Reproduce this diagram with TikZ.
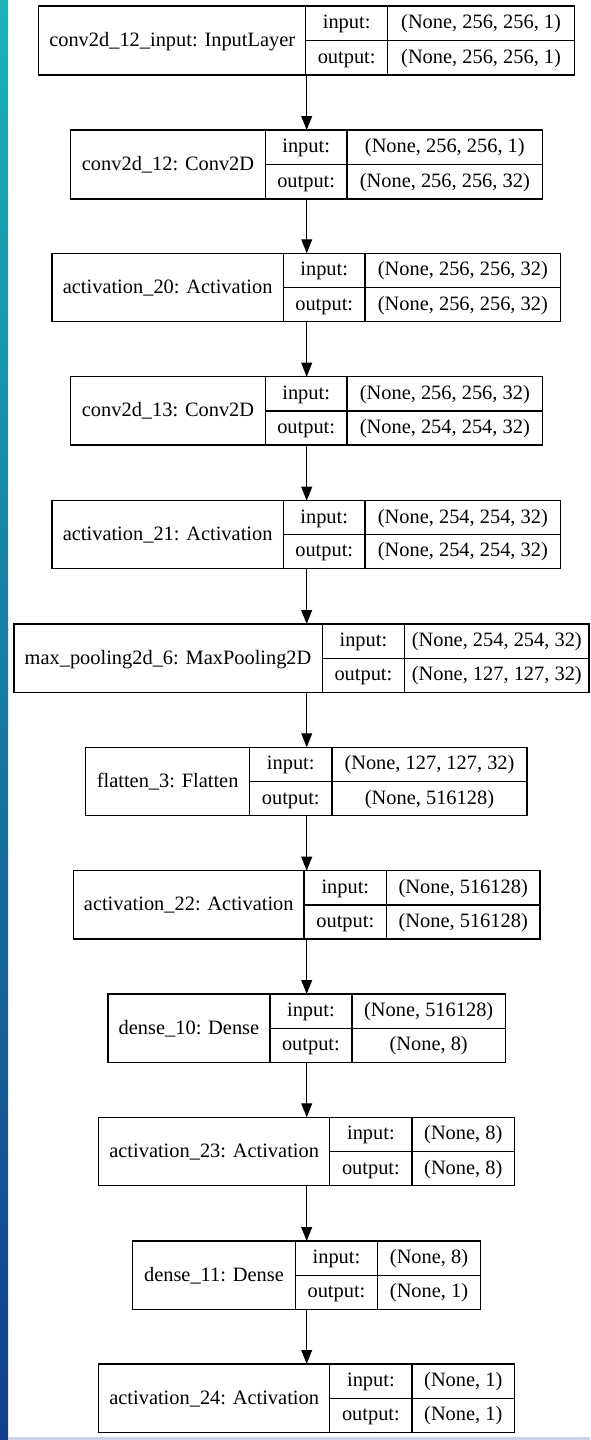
\documentclass[tikz,border=0pt]{standalone}
\usepackage{fontspec}
\setmainfont{Liberation Serif}
\usetikzlibrary{fit,arrows.meta}
\definecolor{stripTop}{HTML}{1BB2B6}
\definecolor{stripMid}{HTML}{1C7FB0}
\definecolor{stripBot}{HTML}{133E8E}
\definecolor{footLine}{HTML}{CCD5E5}
\tikzset{
  frame/.style={draw=black, line width=0.65pt, inner sep=0pt, outer sep=0pt},
  rule/.style={draw=black, line width=0.65pt},
  txt/.style={anchor=base, inner sep=0pt, font=\fontsize{10.2}{12}\selectfont},
  arr/.style={draw=black, line width=0.65pt, -{Triangle[length=7pt,width=5.4pt]}}
}
% name, xl, xa, xb, xr, yt, yb, title, input ; then output
\newcommand\mklayer[9]{%
  \def\Ln{#1}\def\Lxl{#2}\def\Lxa{#3}\def\Lxb{#4}\def\Lxr{#5}%
  \def\Lyt{#6}\def\Lyb{#7}\def\Lti{#8}\def\Lin{#9}%
  \mklayerfinish}
\newcommand\mklayerfinish[1]{%
  \pgfmathsetmacro\Lym{(\Lyt+\Lyb)/2}%
  \node[frame, fit={(\Lxl,\Lyt)(\Lxr,\Lyb)}] (\Ln) {};
  \draw[rule] (\Lxa,\Lyt) -- (\Lxa,\Lyb) (\Lxb,\Lyt) -- (\Lxb,\Lyb) (\Lxa,\Lym) -- (\Lxr,\Lym);
  \node[txt] (\Ln-t) at ({(\Lxl+\Lxa)/2},{\Lym+6}) {\Lti};
  \node[txt] (\Ln-i) at ({(\Lxa+\Lxb)/2},{(\Lyt+\Lym)/2+5.5}) {input:};
  \node[txt] (\Ln-iv) at ({(\Lxb+\Lxr)/2},{(\Lyt+\Lym)/2+5.5}) {\Lin};
  \node[txt] (\Ln-o) at ({(\Lxa+\Lxb)/2},{(\Lym+\Lyb)/2+5.5}) {output:};
  \node[txt] (\Ln-ov) at ({(\Lxb+\Lxr)/2},{(\Lym+\Lyb)/2+5.5}) {#1};
}
\begin{document}
\begin{tikzpicture}[x=0.5pt,y=-0.5pt]
\useasboundingbox (0,0) rectangle (590,1440);
\fill[white] (0,0) rectangle (590,1440);
\shade[top color=stripTop, middle color=stripMid, bottom color=stripBot] (0,0) rectangle (8,1440);
\fill[footLine] (8,1437) rectangle (590,1440);

\mklayer{L1}{38.8}{305.6}{387.7}{574.5}{6}{75}{conv2d\_12\_input: InputLayer}{(None, 256, 256, 1)}{(None, 256, 256, 1)}
\mklayer{L2}{70.8}{265.3}{347}{542.7}{130}{199}{conv2d\_12: Conv2D}{(None, 256, 256, 1)}{(None, 256, 256, 32)}
\mklayer{L3}{51.9}{283.4}{365}{560.8}{253.3}{321.7}{activation\_20: Activation}{(None, 256, 256, 32)}{(None, 256, 256, 32)}
\mklayer{L4}{70.8}{265.3}{347}{542.7}{376.7}{445}{conv2d\_13: Conv2D}{(None, 256, 256, 32)}{(None, 254, 254, 32)}
\mklayer{L5}{51.9}{283.4}{365}{560.8}{500.7}{568.3}{activation\_21: Activation}{(None, 254, 254, 32)}{(None, 254, 254, 32)}
\mklayer{L6}{13.9}{322.2}{404.6}{589}{624}{692.3}{max\_pooling2d\_6: MaxPooling2D}{(None, 254, 254, 32)}{(None, 127, 127, 32)}
\mklayer{L7}{85.8}{249.5}{332}{527}{747.3}{815.7}{flatten\_3: Flatten}{(None, 127, 127, 32)}{(None, 516128)}
\mklayer{L8}{73.4}{304.1}{386.5}{540}{870.7}{939}{activation\_22: Activation}{(None, 516128)}{(None, 516128)}
\mklayer{L9}{108}{269.9}{351.9}{505.5}{994}{1062.3}{dense\_10: Dense}{(None, 516128)}{(None, 8)}
\mklayer{L10}{98.6}{329.7}{412.1}{514.5}{1117.3}{1185.7}{activation\_23: Activation}{(None, 8)}{(None, 8)}
\mklayer{L11}{132.5}{295.4}{377.5}{480.6}{1241}{1309.3}{dense\_11: Dense}{(None, 8)}{(None, 1)}
\mklayer{L12}{98.6}{329.7}{412.1}{514.5}{1364}{1432.3}{activation\_24: Activation}{(None, 1)}{(None, 1)}

\coordinate (ax) at (306.7,0);
\foreach \a/\b in {L1/L2,L2/L3,L3/L4,L4/L5,L5/L6,L6/L7,L7/L8,L8/L9,L9/L10,L10/L11,L11/L12}
  \draw[arr] (\a.south -| ax) -- (\b.north -| ax);
\end{tikzpicture}
\end{document}
